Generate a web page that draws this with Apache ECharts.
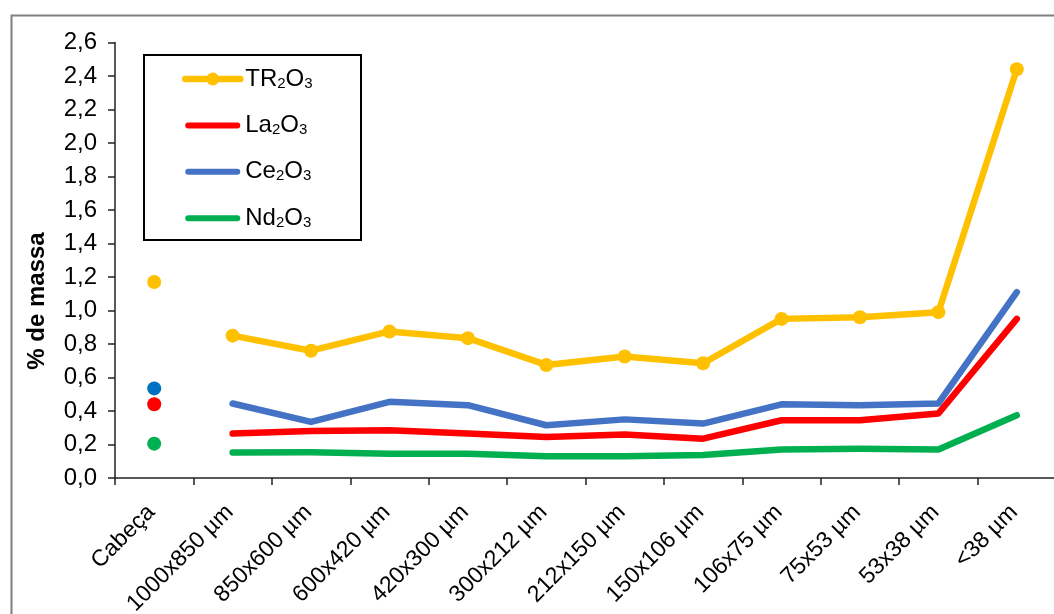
<!DOCTYPE html>
<html>
<head>
<meta charset="utf-8">
<script src="https://cdn.jsdelivr.net/npm/echarts@6/dist/echarts.min.js"></script>
<style>
html,body{margin:0;padding:0;background:#fff;}
#chart{width:1054px;height:614px;}
</style>
</head>
<body>
<div id="chart"></div>
<script>
var categories = ['Cabeça','1000x850 µm','850x600 µm','600x420 µm','420x300 µm','300x212 µm','212x150 µm','150x106 µm','106x75 µm','75x53 µm','53x38 µm','<38 µm'];
var seriesNames = ['TR2O3','La2O3','Ce2O3','Nd2O3'];
var tr = [null, 0.85, 0.76, 0.875, 0.835, 0.675, 0.725, 0.685, 0.95, 0.96, 0.99, 2.44];
var la = [null, 0.265, 0.28, 0.285, 0.265, 0.245, 0.26, 0.235, 0.345, 0.345, 0.385, 0.95];
var ce = [null, 0.445, 0.335, 0.455, 0.435, 0.315, 0.35, 0.325, 0.44, 0.435, 0.445, 1.11];
var nd = [null, 0.152, 0.153, 0.145, 0.145, 0.13, 0.13, 0.138, 0.17, 0.175, 0.17, 0.375];
var headTR = [1.17];
var headLa = [0.44];
var headCe = [0.535];
var headNd = [0.205];
var yTicks = {min: 0, max: 2.6, interval: 0.2};
var yTitle = '% de massa';

var font = '"Liberation Sans", Arial, sans-serif';
var colors = {tr:'#FFC000', la:'#FF0000', ce:'#4472C4', nd:'#00B050', ceHead:'#0070C0'};
var barIcon = 'path://M3,0L52,0A3,3,0,0,1,52,6L3,6A3,3,0,0,1,3,0Z';

function lineSeries(name, data, color, withSymbol) {
  return {
    name: name, type: 'line', data: data,
    symbol: withSymbol ? 'circle' : 'none',
    symbolSize: 14, showSymbol: withSymbol,
    connectNulls: false,
    lineStyle: {width: 6.5, color: color, cap: 'round', join: 'round'},
    itemStyle: {color: color},
    z: 3
  };
}
function headSeries(name, data, color) {
  return {
    name: name, type: 'scatter', data: data, symbol: 'circle', symbolSize: 14,
    itemStyle: {color: color, opacity: 1}, z: 4
  };
}
function legendFmt(n) {
  var out = '';
  var parts = n.match(/[A-Za-z]+|\d+/g);
  for (var i = 0; i < parts.length; i++) {
    out += /\d/.test(parts[i]) ? '{s|' + parts[i] + '}' : '{n|' + parts[i] + '}';
  }
  return out;
}

var chart = echarts.init(document.getElementById('chart'), null, {renderer: 'canvas'});
chart.setOption({
  animation: false,
  backgroundColor: '#fff',
  textStyle: {fontFamily: font},
  graphic: [
    {type: 'rect', left: 9, top: 13, shape: {x: 0, y: 0, width: 1200, height: 800},
     style: {fill: 'none', stroke: '#7F7F7F', lineWidth: 2}, z: 0},
    {type: 'rect', shape: {x: 144, y: 55, width: 217, height: 185},
     style: {fill: '#fff', stroke: '#000', lineWidth: 2}, z: 5},
    {type: 'text', x: 37, y: 301, rotation: Math.PI / 2, z: 6,
     style: {text: yTitle, fontSize: 24, fontWeight: 'bold', fill: '#000', fontFamily: font,
             align: 'center', verticalAlign: 'middle'}}
  ],
  grid: {left: 115, top: 42.5, right: -2, bottom: 136, containLabel: false, outerBoundsMode: 'none'},
  legend: {
    orient: 'vertical', left: 182, top: 67, padding: 0,
    itemWidth: 55, itemHeight: 16, itemGap: 22.4, z: 10,
    lineStyle: {width: 6.5},
    data: [
      {name: seriesNames[0]},
      {name: seriesNames[1], icon: barIcon, itemStyle: {color: colors.la}},
      {name: seriesNames[2], icon: barIcon, itemStyle: {color: colors.ce}},
      {name: seriesNames[3], icon: barIcon, itemStyle: {color: colors.nd}}
    ],
    formatter: legendFmt,
    textStyle: {
      fontFamily: font, fontSize: 24, color: '#000', lineHeight: 24,
      rich: {
        n: {fontFamily: font, fontSize: 24, color: '#000', verticalAlign: 'bottom', lineHeight: 24},
        s: {fontFamily: font, fontSize: 15, color: '#000', verticalAlign: 'bottom', lineHeight: 24}
      }
    }
  },
  xAxis: {
    type: 'category', data: categories, boundaryGap: true,
    axisLine: {lineStyle: {color: '#222', width: 1.5}},
    axisTick: {show: true, length: 7, lineStyle: {color: '#222', width: 1.5}},
    axisLabel: {rotate: 45, interval: 0, margin: 28, padding: [0, 4, 0, 0],
      fontSize: 23, color: '#000', fontFamily: font},
    splitLine: {show: false}
  },
  yAxis: {
    type: 'value', min: yTicks.min, max: yTicks.max, interval: yTicks.interval,
    axisLine: {show: true, lineStyle: {color: '#222', width: 1.5}},
    axisTick: {show: true, inside: false, length: 7, lineStyle: {color: '#222', width: 1.5}},
    axisLabel: {margin: 18, fontSize: 24, color: '#000', fontFamily: font,
      formatter: function (v) { return v.toFixed(1).replace('.', ','); }},
    splitLine: {show: false}
  },
  series: [
    lineSeries(seriesNames[0], tr, colors.tr, true),
    lineSeries(seriesNames[1], la, colors.la, false),
    lineSeries(seriesNames[2], ce, colors.ce, false),
    lineSeries(seriesNames[3], nd, colors.nd, false),
    headSeries('Cabeça TR2O3', headTR, colors.tr),
    headSeries('Cabeça Ce2O3', headCe, colors.ceHead),
    headSeries('Cabeça La2O3', headLa, colors.la),
    headSeries('Cabeça Nd2O3', headNd, colors.nd)
  ]
});
</script>
</body>
</html>
